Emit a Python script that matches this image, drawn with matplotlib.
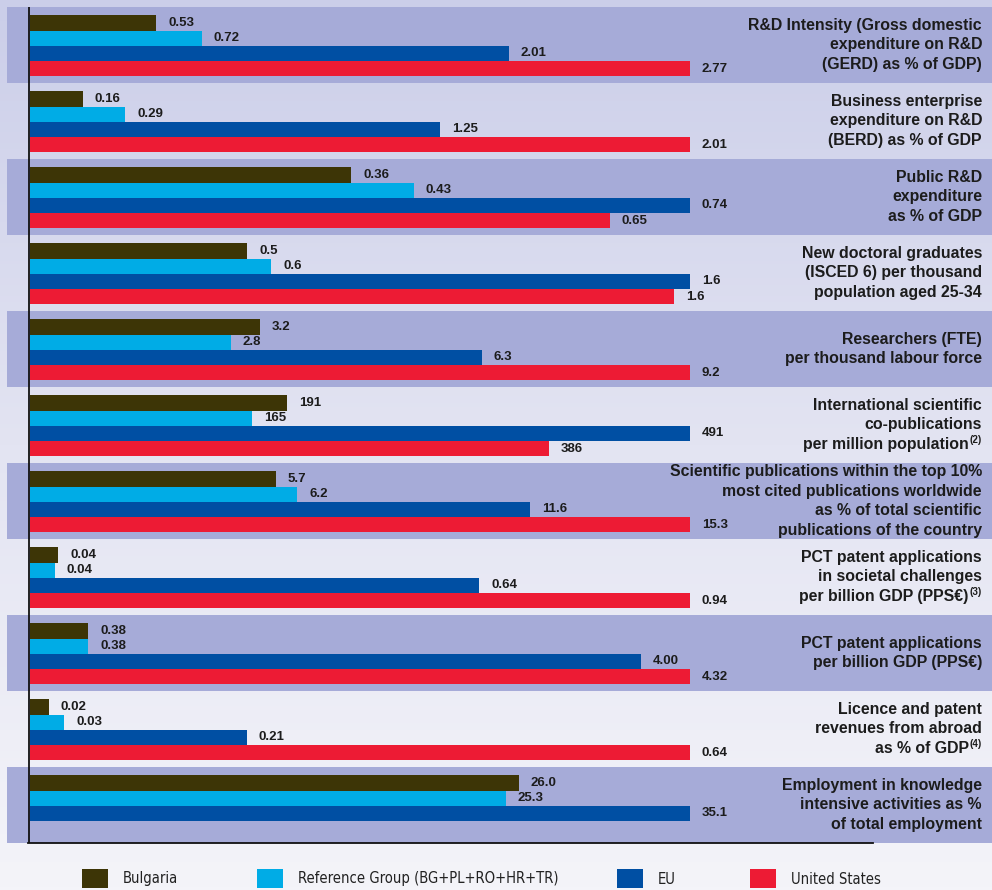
"""Bulgaria vs reference group, EU and US: research and innovation indicators.

Each indicator gets its own scale: the biggest bar in a group spans the full width.
"""

import matplotlib.pyplot as plt
import numpy as np
from matplotlib.colors import LinearSegmentedColormap
from matplotlib.font_manager import FontProperties
from matplotlib.patches import Rectangle

INDICATORS = [
    "R&D Intensity (Gross domestic\nexpenditure on R&D\n(GERD) as % of GDP)",
    "Business enterprise\nexpenditure on R&D\n(BERD) as % of GDP",
    "Public R&D\nexpenditure\nas % of GDP",
    "New doctoral graduates\n(ISCED 6) per thousand\npopulation aged 25-34",
    "Researchers (FTE)\nper thousand labour force",
    "International scientific\nco-publications\nper million population",
    "Scientific publications within the top 10%\nmost cited publications worldwide\n"
    "as % of total scientific\npublications of the country",
    "PCT patent applications\nin societal challenges\nper billion GDP (PPS€)",
    "PCT patent applications\nper billion GDP (PPS€)",
    "Licence and patent\nrevenues from abroad\nas % of GDP",
    "Employment in knowledge\nintensive activities as %\nof total employment",
]
# footnote marks on the last line of some indicators
NOTES = [None, None, None, None, None, "(2)", None, "(3)", None, "(4)", None]

SERIES_NAMES = ["Bulgaria", "Reference Group (BG+PL+RO+HR+TR)", "EU", "United States"]

bulgaria = [0.53, 0.16, 0.36, 0.54, 3.2, 191, 5.7, 0.04, 0.38, 0.018, 26.0]
reference_group = [0.72, 0.29, 0.43, 0.60, 2.8, 165, 6.2, 0.035, 0.38, 0.033, 25.3]
eu = [2.01, 1.25, 0.74, 1.64, 6.3, 491, 11.6, 0.64, 4.00, 0.21, 35.1]
united_states = [2.77, 2.01, 0.65, 1.60, 9.2, 386, 15.3, 0.94, 4.32, 0.64, None]

bulgaria_labels = ["0.53", "0.16", "0.36", "0.5", "3.2", "191", "5.7", "0.04", "0.38", "0.02", "26.0"]
reference_labels = ["0.72", "0.29", "0.43", "0.6", "2.8", "165", "6.2", "0.04", "0.38", "0.03", "25.3"]
eu_labels = ["2.01", "1.25", "0.74", "1.6", "6.3", "491", "11.6", "0.64", "4.00", "0.21", "35.1"]
us_labels = ["2.77", "2.01", "0.65", "1.6", "9.2", "386", "15.3", "0.94", "4.32", "0.64", None]

COLORS = ["#3d3506", "#00ace6", "#004fa3", "#ed1b34"]
BAND_COLOR = "#a6abd8"
TEXT_COLOR = "#1c1c1c"
LEGEND_X = [82, 257, 617, 750]  # left edge of each legend swatch, px

plt.rcParams["font.family"] = ["Liberation Sans", "DejaVu Sans"]

W, H = 992, 890
fig = plt.figure(figsize=(W / 100, H / 100), dpi=100)
renderer = fig.canvas.get_renderer()

# background: soft vertical gradient, also used (in pixel units) for the legend
bg = fig.add_axes([0, 0, 1, 1])
bg.set_axis_off()
cmap = LinearSegmentedColormap.from_list("bg", ["#cbcee9", "#e3e4f2", "#f4f4f9"])
bg.imshow(np.linspace(0, 1, 256).reshape(-1, 1), cmap=cmap, aspect="auto",
          extent=(0, W, H, 0), origin="upper")
bg.set_xlim(0, W)
bg.set_ylim(H, 0)

# main axes: x from 7px to 992px, y from 7px to 843px
ax_left, ax_right, ax_top, ax_bottom = 7, 992, 7, 843
ax = fig.add_axes([ax_left / W, 1 - ax_bottom / H, (ax_right - ax_left) / W,
                   (ax_bottom - ax_top) / H])
ax.set_axis_off()
unit = 660.0  # pixels for the biggest bar of each group
zero_px = 30 - ax_left
ax.set_xlim(-zero_px / unit, (ax_right - ax_left - zero_px) / unit)
n_groups = len(INDICATORS)
ax.set_ylim(n_groups, 0)
group_px = (ax_bottom - ax_top) / n_groups

for i in range(0, n_groups, 2):
    ax.axhspan(i, i + 1, color=BAND_COLOR, lw=0, zorder=0)

series = [bulgaria, reference_group, eu, united_states]
labels = [bulgaria_labels, reference_labels, eu_labels, us_labels]
bar_height = 0.2
label_x = (982 - ax_left) / (ax_right - ax_left)
line_step = 19.5 / group_px

for g in range(n_groups):
    group_max = max(s[g] for s in series if s[g] is not None)
    for k, (values, value_labels) in enumerate(zip(series, labels)):
        if values[g] is None:
            continue
        width = values[g] / group_max
        y = g + 0.21 + bar_height * k
        ax.barh(y, width, height=bar_height, color=COLORS[k], lw=0, zorder=2)
        ax.annotate(value_labels[g], xy=(width, y), xytext=(12, 0),
                    textcoords="offset pixels", va="center", ha="left",
                    fontsize=9.5, fontweight="bold", color=TEXT_COLOR, zorder=3)

    # indicator name, one text per line so the footnote can sit on the last line
    lines = INDICATORS[g].split("\n")
    n = len(lines)
    for j, line in enumerate(lines):
        y = g + 0.48 + (j - (n - 1) / 2) * line_step
        shift = 0
        if j == n - 1 and NOTES[g]:
            note = ax.annotate(NOTES[g], xy=(label_x, y), xycoords=ax.get_yaxis_transform(),
                               xytext=(0, 4), textcoords="offset pixels",
                               ha="right", va="center_baseline", fontsize=7,
                               fontweight="bold", color=TEXT_COLOR, zorder=3)
            shift = note.get_window_extent(renderer).width + 1
        ax.annotate(line, xy=(label_x, y), xycoords=ax.get_yaxis_transform(),
                    xytext=(-shift, 0), textcoords="offset pixels",
                    ha="right", va="center_baseline", fontsize=11.4,
                    fontweight="bold", color=TEXT_COLOR, zorder=3)

ax.axvline(-1 / unit, color="#111111", lw=1.3, zorder=4)
ax.axhline(n_groups, xmin=21 / 985, xmax=866 / 985, color="#111111", lw=1.3,
           clip_on=False, zorder=4)

# legend: swatch + condensed label
legend_font = FontProperties(family="DejaVu Sans", stretch="condensed", size=10.6)
for x0, color, name in zip(LEGEND_X, COLORS, SERIES_NAMES):
    bg.add_patch(Rectangle((x0, 869), 26, 19, facecolor=color, edgecolor="none"))
    bg.text(x0 + 41, 879, name, ha="left", va="center", fontproperties=legend_font,
            color="#222222")

fig.savefig("out.png", dpi=100)
